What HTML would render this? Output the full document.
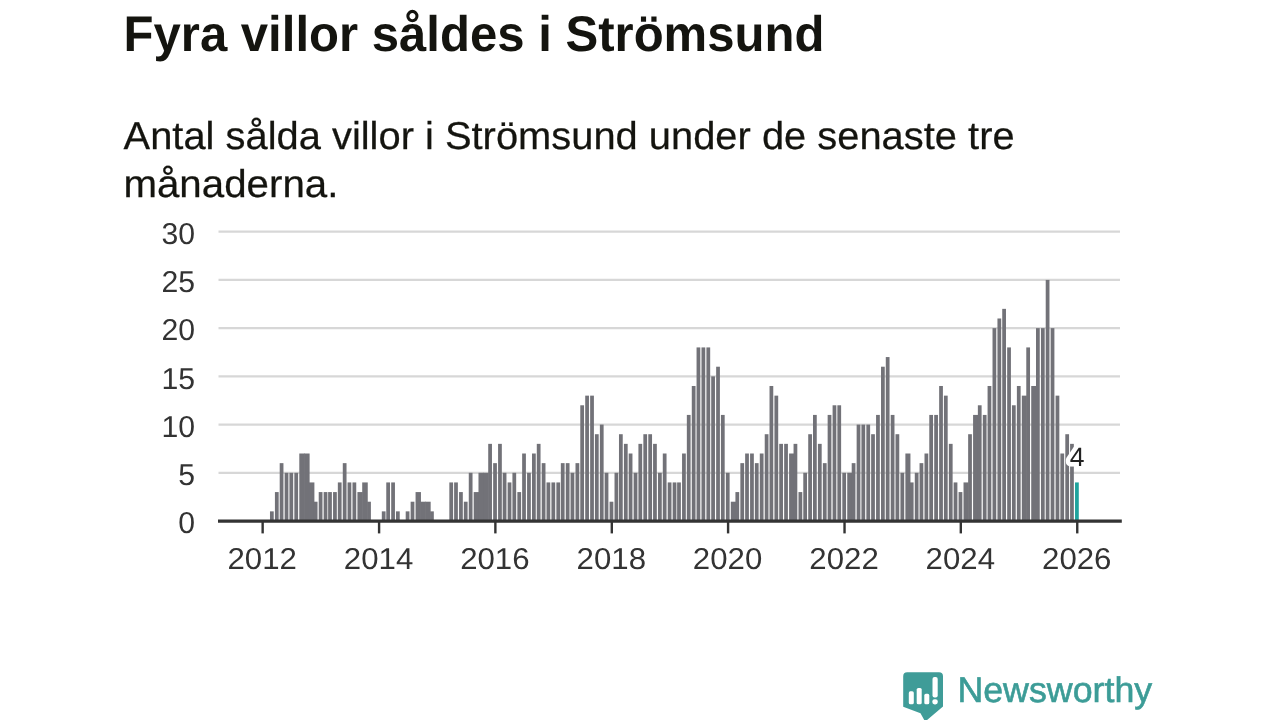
<!DOCTYPE html>
<html lang="sv"><head><meta charset="utf-8"><title>Fyra villor såldes i Strömsund</title>
<style>
html,body{margin:0;padding:0;background:#fff;}
body{width:1280px;height:720px;overflow:hidden;font-family:'Liberation Sans', sans-serif;}
svg{display:block;}
text{font-family:'Liberation Sans', sans-serif;text-rendering:geometricPrecision;}
</style></head><body>
<svg width="1280" height="720" viewBox="0 0 1280 720">
<rect width="1280" height="720" fill="#fff"/>
<text x="123.5" y="51.3" font-size="50" font-weight="700" fill="#14140f" textLength="701" lengthAdjust="spacingAndGlyphs">Fyra villor såldes i Strömsund</text>
<text x="123.6" y="148.8" font-size="38.8" fill="#14140f" stroke="#14140f" stroke-width="0.25" textLength="891" lengthAdjust="spacingAndGlyphs">Antal sålda villor i Strömsund under de senaste tre</text>
<text x="123.4" y="197" font-size="38.8" fill="#14140f" stroke="#14140f" stroke-width="0.25" textLength="215" lengthAdjust="spacingAndGlyphs">månaderna.</text>
<g stroke="#d7d7d7" stroke-width="2.2">
<line x1="218.5" x2="1120" y1="472.78" y2="472.78"/>
<line x1="218.5" x2="1120" y1="424.57" y2="424.57"/>
<line x1="218.5" x2="1120" y1="376.35" y2="376.35"/>
<line x1="218.5" x2="1120" y1="328.13" y2="328.13"/>
<line x1="218.5" x2="1120" y1="279.92" y2="279.92"/>
<line x1="218.5" x2="1120" y1="231.70" y2="231.70"/>
</g>
<g font-size="30.2" fill="#333" text-anchor="end">
<text x="195" y="533.20">0</text>
<text x="195" y="484.98">5</text>
<text x="195" y="436.77">10</text>
<text x="195" y="388.55">15</text>
<text x="195" y="340.33">20</text>
<text x="195" y="292.12">25</text>
<text x="195" y="243.90">30</text>
</g>
<g fill="#727278">
<rect x="269.98" y="511.36" width="3.75" height="9.64"/>
<rect x="274.92" y="492.07" width="3.75" height="28.93"/>
<rect x="279.70" y="463.14" width="3.75" height="57.86"/>
<rect x="284.64" y="472.78" width="3.75" height="48.22"/>
<rect x="289.42" y="472.78" width="3.75" height="48.22"/>
<rect x="294.35" y="472.78" width="3.75" height="48.22"/>
<rect x="299.29" y="453.50" width="5.38" height="67.50"/>
<rect x="304.07" y="453.50" width="5.54" height="67.50"/>
<rect x="309.01" y="482.43" width="5.38" height="38.57"/>
<rect x="313.79" y="501.71" width="3.75" height="19.29"/>
<rect x="318.72" y="492.07" width="3.75" height="28.93"/>
<rect x="323.66" y="492.07" width="3.75" height="28.93"/>
<rect x="328.12" y="492.07" width="3.75" height="28.93"/>
<rect x="333.06" y="492.07" width="3.75" height="28.93"/>
<rect x="337.84" y="482.43" width="3.75" height="38.57"/>
<rect x="342.78" y="463.14" width="3.75" height="57.86"/>
<rect x="347.56" y="482.43" width="3.75" height="38.57"/>
<rect x="352.49" y="482.43" width="3.75" height="38.57"/>
<rect x="357.43" y="492.07" width="5.38" height="28.93"/>
<rect x="362.21" y="482.43" width="5.54" height="38.57"/>
<rect x="367.15" y="501.71" width="3.75" height="19.29"/>
<rect x="381.80" y="511.36" width="3.75" height="9.64"/>
<rect x="386.26" y="482.43" width="3.75" height="38.57"/>
<rect x="391.20" y="482.43" width="3.75" height="38.57"/>
<rect x="395.98" y="511.36" width="3.75" height="9.64"/>
<rect x="405.70" y="511.36" width="3.75" height="9.64"/>
<rect x="410.63" y="501.71" width="3.75" height="19.29"/>
<rect x="415.57" y="492.07" width="5.38" height="28.93"/>
<rect x="420.35" y="501.71" width="5.54" height="19.29"/>
<rect x="425.29" y="501.71" width="5.38" height="19.29"/>
<rect x="430.07" y="511.36" width="3.75" height="9.64"/>
<rect x="449.34" y="482.43" width="3.75" height="38.57"/>
<rect x="454.12" y="482.43" width="3.75" height="38.57"/>
<rect x="459.06" y="492.07" width="3.75" height="28.93"/>
<rect x="463.84" y="501.71" width="3.75" height="19.29"/>
<rect x="468.77" y="472.78" width="3.75" height="48.22"/>
<rect x="473.71" y="492.07" width="5.38" height="28.93"/>
<rect x="478.49" y="472.78" width="5.54" height="48.22"/>
<rect x="483.43" y="472.78" width="5.38" height="48.22"/>
<rect x="488.21" y="443.85" width="3.75" height="77.15"/>
<rect x="493.15" y="463.14" width="3.75" height="57.86"/>
<rect x="498.08" y="443.85" width="3.75" height="77.15"/>
<rect x="502.70" y="472.78" width="3.75" height="48.22"/>
<rect x="507.64" y="482.43" width="3.75" height="38.57"/>
<rect x="512.42" y="472.78" width="3.75" height="48.22"/>
<rect x="517.36" y="492.07" width="3.75" height="28.93"/>
<rect x="522.14" y="453.50" width="3.75" height="67.50"/>
<rect x="527.07" y="472.78" width="3.75" height="48.22"/>
<rect x="532.01" y="453.50" width="3.75" height="67.50"/>
<rect x="536.79" y="443.85" width="3.75" height="77.15"/>
<rect x="541.73" y="463.14" width="3.75" height="57.86"/>
<rect x="546.51" y="482.43" width="3.75" height="38.57"/>
<rect x="551.44" y="482.43" width="3.75" height="38.57"/>
<rect x="556.38" y="482.43" width="3.75" height="38.57"/>
<rect x="560.84" y="463.14" width="3.75" height="57.86"/>
<rect x="565.78" y="463.14" width="3.75" height="57.86"/>
<rect x="570.56" y="472.78" width="3.75" height="48.22"/>
<rect x="575.50" y="463.14" width="3.75" height="57.86"/>
<rect x="580.28" y="405.28" width="3.75" height="115.72"/>
<rect x="585.21" y="395.64" width="3.75" height="125.36"/>
<rect x="590.15" y="395.64" width="3.75" height="125.36"/>
<rect x="594.93" y="434.21" width="3.75" height="86.79"/>
<rect x="599.87" y="424.57" width="3.75" height="96.43"/>
<rect x="604.65" y="472.78" width="3.75" height="48.22"/>
<rect x="609.58" y="501.71" width="3.75" height="19.29"/>
<rect x="614.52" y="472.78" width="3.75" height="48.22"/>
<rect x="618.98" y="434.21" width="3.75" height="86.79"/>
<rect x="623.92" y="443.85" width="3.75" height="77.15"/>
<rect x="628.70" y="453.50" width="3.75" height="67.50"/>
<rect x="633.64" y="472.78" width="3.75" height="48.22"/>
<rect x="638.42" y="443.85" width="3.75" height="77.15"/>
<rect x="643.35" y="434.21" width="3.75" height="86.79"/>
<rect x="648.29" y="434.21" width="3.75" height="86.79"/>
<rect x="653.07" y="443.85" width="3.75" height="77.15"/>
<rect x="658.01" y="472.78" width="3.75" height="48.22"/>
<rect x="662.79" y="453.50" width="3.75" height="67.50"/>
<rect x="667.73" y="482.43" width="3.75" height="38.57"/>
<rect x="672.66" y="482.43" width="3.75" height="38.57"/>
<rect x="677.12" y="482.43" width="3.75" height="38.57"/>
<rect x="682.06" y="453.50" width="3.75" height="67.50"/>
<rect x="686.84" y="414.92" width="3.75" height="106.08"/>
<rect x="691.78" y="385.99" width="3.75" height="135.01"/>
<rect x="696.56" y="347.42" width="3.75" height="173.58"/>
<rect x="701.49" y="347.42" width="3.75" height="173.58"/>
<rect x="706.43" y="347.42" width="3.75" height="173.58"/>
<rect x="711.21" y="376.35" width="3.75" height="144.65"/>
<rect x="716.15" y="366.71" width="3.75" height="154.29"/>
<rect x="720.93" y="414.92" width="3.75" height="106.08"/>
<rect x="725.87" y="472.78" width="3.75" height="48.22"/>
<rect x="730.80" y="501.71" width="5.22" height="19.29"/>
<rect x="735.42" y="492.07" width="3.75" height="28.93"/>
<rect x="740.36" y="463.14" width="3.75" height="57.86"/>
<rect x="745.14" y="453.50" width="3.75" height="67.50"/>
<rect x="750.08" y="453.50" width="3.75" height="67.50"/>
<rect x="754.86" y="463.14" width="3.75" height="57.86"/>
<rect x="759.79" y="453.50" width="3.75" height="67.50"/>
<rect x="764.73" y="434.21" width="3.75" height="86.79"/>
<rect x="769.51" y="385.99" width="3.75" height="135.01"/>
<rect x="774.45" y="395.64" width="3.75" height="125.36"/>
<rect x="779.23" y="443.85" width="3.75" height="77.15"/>
<rect x="784.16" y="443.85" width="3.75" height="77.15"/>
<rect x="789.10" y="453.50" width="5.06" height="67.50"/>
<rect x="793.56" y="443.85" width="3.75" height="77.15"/>
<rect x="798.50" y="492.07" width="3.75" height="28.93"/>
<rect x="803.28" y="472.78" width="3.75" height="48.22"/>
<rect x="808.22" y="434.21" width="3.75" height="86.79"/>
<rect x="813.00" y="414.92" width="3.75" height="106.08"/>
<rect x="817.93" y="443.85" width="3.75" height="77.15"/>
<rect x="822.87" y="463.14" width="3.75" height="57.86"/>
<rect x="827.65" y="414.92" width="3.75" height="106.08"/>
<rect x="832.59" y="405.28" width="3.75" height="115.72"/>
<rect x="837.37" y="405.28" width="3.75" height="115.72"/>
<rect x="842.30" y="472.78" width="3.75" height="48.22"/>
<rect x="847.24" y="472.78" width="5.06" height="48.22"/>
<rect x="851.70" y="463.14" width="3.75" height="57.86"/>
<rect x="856.64" y="424.57" width="3.75" height="96.43"/>
<rect x="861.42" y="424.57" width="3.75" height="96.43"/>
<rect x="866.36" y="424.57" width="3.75" height="96.43"/>
<rect x="871.14" y="434.21" width="3.75" height="86.79"/>
<rect x="876.07" y="414.92" width="3.75" height="106.08"/>
<rect x="881.01" y="366.71" width="3.75" height="154.29"/>
<rect x="885.79" y="357.06" width="3.75" height="163.94"/>
<rect x="890.73" y="414.92" width="3.75" height="106.08"/>
<rect x="895.51" y="434.21" width="3.75" height="86.79"/>
<rect x="900.45" y="472.78" width="3.75" height="48.22"/>
<rect x="905.38" y="453.50" width="5.06" height="67.50"/>
<rect x="909.84" y="482.43" width="3.75" height="38.57"/>
<rect x="914.78" y="472.78" width="3.75" height="48.22"/>
<rect x="919.56" y="463.14" width="3.75" height="57.86"/>
<rect x="924.50" y="453.50" width="3.75" height="67.50"/>
<rect x="929.28" y="414.92" width="3.75" height="106.08"/>
<rect x="934.21" y="414.92" width="3.75" height="106.08"/>
<rect x="939.15" y="385.99" width="3.75" height="135.01"/>
<rect x="943.93" y="395.64" width="3.75" height="125.36"/>
<rect x="948.87" y="443.85" width="3.75" height="77.15"/>
<rect x="953.65" y="482.43" width="3.75" height="38.57"/>
<rect x="958.59" y="492.07" width="3.75" height="28.93"/>
<rect x="963.52" y="482.43" width="5.22" height="38.57"/>
<rect x="968.14" y="434.21" width="3.75" height="86.79"/>
<rect x="973.08" y="414.92" width="5.38" height="106.08"/>
<rect x="977.86" y="405.28" width="3.75" height="115.72"/>
<rect x="982.80" y="414.92" width="3.75" height="106.08"/>
<rect x="987.58" y="385.99" width="3.75" height="135.01"/>
<rect x="992.51" y="328.13" width="3.75" height="192.87"/>
<rect x="997.45" y="318.49" width="3.75" height="202.51"/>
<rect x="1002.23" y="308.85" width="3.75" height="212.15"/>
<rect x="1007.17" y="347.42" width="3.75" height="173.58"/>
<rect x="1011.95" y="405.28" width="3.75" height="115.72"/>
<rect x="1016.88" y="385.99" width="3.75" height="135.01"/>
<rect x="1021.82" y="395.64" width="5.06" height="125.36"/>
<rect x="1026.28" y="347.42" width="3.75" height="173.58"/>
<rect x="1031.22" y="385.99" width="5.38" height="135.01"/>
<rect x="1036.00" y="328.13" width="3.75" height="192.87"/>
<rect x="1040.94" y="328.13" width="3.75" height="192.87"/>
<rect x="1045.72" y="279.92" width="3.75" height="241.08"/>
<rect x="1050.65" y="328.13" width="3.75" height="192.87"/>
<rect x="1055.59" y="395.64" width="3.75" height="125.36"/>
<rect x="1060.37" y="453.50" width="3.75" height="67.50"/>
<rect x="1065.31" y="434.21" width="3.75" height="86.79"/>
<rect x="1070.09" y="443.85" width="3.75" height="77.15"/>
<rect x="1075.03" y="482.43" width="3.75" height="38.57" fill="#1fa39d"/>
</g>
<line x1="218" x2="1121.8" y1="521.1" y2="521.1" stroke="#333" stroke-width="3.2"/>
<g stroke="#333" stroke-width="2.4">
<line x1="262.65" x2="262.65" y1="521" y2="533.4"/>
<line x1="379.09" x2="379.09" y1="521" y2="533.4"/>
<line x1="495.37" x2="495.37" y1="521" y2="533.4"/>
<line x1="611.81" x2="611.81" y1="521" y2="533.4"/>
<line x1="728.09" x2="728.09" y1="521" y2="533.4"/>
<line x1="844.53" x2="844.53" y1="521" y2="533.4"/>
<line x1="960.81" x2="960.81" y1="521" y2="533.4"/>
<line x1="1077.25" x2="1077.25" y1="521" y2="533.4"/>
</g>
<g font-size="30.2" fill="#333" text-anchor="middle">
<text x="262.15" y="569.0" textLength="69.4" lengthAdjust="spacingAndGlyphs">2012</text>
<text x="378.59" y="569.0" textLength="69.4" lengthAdjust="spacingAndGlyphs">2014</text>
<text x="494.87" y="569.0" textLength="69.4" lengthAdjust="spacingAndGlyphs">2016</text>
<text x="611.31" y="569.0" textLength="69.4" lengthAdjust="spacingAndGlyphs">2018</text>
<text x="727.59" y="569.0" textLength="69.4" lengthAdjust="spacingAndGlyphs">2020</text>
<text x="844.03" y="569.0" textLength="69.4" lengthAdjust="spacingAndGlyphs">2022</text>
<text x="960.31" y="569.0" textLength="69.4" lengthAdjust="spacingAndGlyphs">2024</text>
<text x="1076.75" y="569.0" textLength="69.4" lengthAdjust="spacingAndGlyphs">2026</text>
</g>
<text x="1077" y="465.6" font-size="26.5" fill="#222" text-anchor="middle" stroke="#fff" stroke-width="9" stroke-linejoin="round" paint-order="stroke">4</text>
<g fill="#3f9c98">
<path d="M907.2 672.3 H939 Q943 672.3 943 676.3 V706.5 L926.5 720.5 H924.5 L920.5 713.2 L903.2 706.7 V676.3 Q903.2 672.3 907.2 672.3 Z"/>
</g>
<g fill="#fff">
<rect x="908.8" y="691.3" width="5" height="13" rx="1.6"/>
<rect x="916.7" y="688" width="5" height="16.3" rx="1.6"/>
<rect x="924.3" y="693.8" width="5" height="10.5" rx="1.6"/>
<rect x="932.5" y="677" width="5.2" height="20.6" rx="2"/>
<rect x="932.3" y="699.2" width="5.5" height="5.2" rx="2.4"/>
</g>
<text x="957.4" y="702.3" font-size="35.5" fill="#3c9c97" stroke="#3c9c97" stroke-width="0.6" textLength="194.8" lengthAdjust="spacingAndGlyphs">Newsworthy</text>
</svg>
</body></html>
